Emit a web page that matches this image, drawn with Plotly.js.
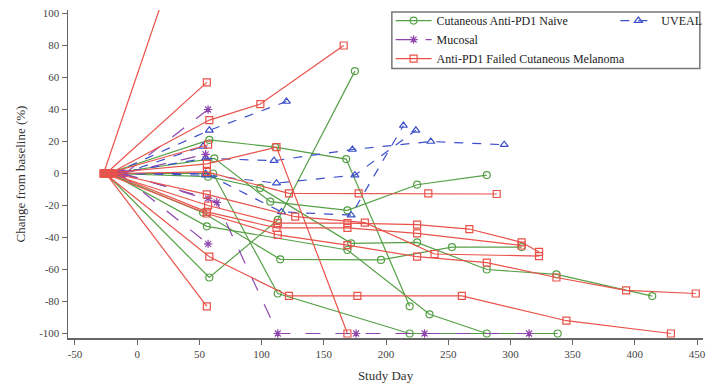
<!DOCTYPE html>
<html>
<head>
<meta charset="utf-8">
<script src="https://cdn.plot.ly/plotly-3.0.1.min.js"></script>
<style>html,body{margin:0;padding:0;background:#fff;}#chart{width:716px;height:388px;}</style>
</head>
<body>
<div id="chart"></div>
<script>
// Cohort names
const cohorts = ["Cutaneous Anti-PD1 Naive", "Mucosal", "Anti-PD1 Failed Cutaneous Melanoma", "UVEAL"];

// Cutaneous Anti-PD1 Naive: study day and % change per patient
const naiveDays = [
  [-25, 58, 113, 175],
  [-24, 58, 111, 168, 219],
  [-22, 62, 107, 169, 225, 281],
  [-20, 57, 99, 172, 225, 281, 337, 414],
  [-23, 53, 115, 196, 253, 309],
  [-21, 56, 169, 235, 281],
  [-25, 61, 113, 219, 338]
];
const naiveVals = [
  [0, -65, -29, 64],
  [0, 21, 16.5, 9, -83],
  [0, 9.5, -17.6, -23, -7, -1],
  [0, -2, -9, -43.6, -43, -60, -63, -76.6],
  [0, -24.5, -53.6, -54, -46, -46],
  [0, -33, -47.8, -88, -100],
  [0, 0, -75, -100, -100]
];

// Mucosal
const mucosalDays = [
  [-10, 57],
  [-13, 57],
  [-11, 64, 113, 176, 231, 315],
  [-14, 57],
  [-12, 55]
];
const mucosalVals = [
  [0, 40],
  [0, -15.5],
  [0, -18, -100, -100, -100, -100],
  [0, -44],
  [0, 12]
];

// Anti-PD1 Failed Cutaneous Melanoma
const failedDays = [
  [-27, 56],
  [-25, 56],
  [-22, 58, 99, 166],
  [-27, 56, 112, 169],
  [-26, 58, 122, 177, 261, 345, 429],
  [-25, 56],
  [-24, 57],
  [-20, 56, 122, 178, 234, 289],
  [-23, 57, 113, 169, 225, 267, 309, 323],
  [-21, 56, 112, 169, 225, 309],
  [-19, 56, 127, 183, 239, 323],
  [-26, 56, 113, 169, 225, 281, 337, 393, 449]
];
const failedVals = [
  [0, 190],
  [0, 57],
  [0, 33.4, 43.4, 80],
  [0, 6, 16.5, -100],
  [0, -52, -76.5, -76.5, -76.5, -92, -100],
  [0, -83],
  [0, 18],
  [0, 1, -12.4, -12.4, -12.4, -12.8],
  [0, -20, -31, -31, -32, -34.7, -43, -49],
  [0, -24, -34, -34, -37.4, -45],
  [0, -13, -27, -30.7, -50.3, -51.6],
  [0, -25, -38.4, -44.7, -52, -55.7, -65, -73, -75]
];

// UVEAL
const uvealDays = [
  [-20, 58, 120],
  [-18, 55, 110, 173, 236, 295],
  [-15, 55, 112, 175, 224],
  [-16, 55, 116, 172, 214],
  [-12, 53]
];
const uvealVals = [
  [0, 27, 45],
  [0, 9.5, 8, 15, 20, 18],
  [0, -1, -6, -1, 27],
  [0, 0, -24, -26, 30],
  [0, 17]
];

const yTicks = [-100, -80, -60, -40, -20, 0, 20, 40, 60, 80, 100];
const xTicks = [-50, 0, 50, 100, 150, 200, 250, 300, 350, 400, 450];

const styles = {
  "Cutaneous Anti-PD1 Naive": {color: "#55a046", symbol: "circle-open", dash: "solid", legend: "legend", rank: 1},
  "Mucosal": {color: "#8e46ad", symbol: "asterisk-open", dash: "longdash", legend: "legend", rank: 2},
  "Anti-PD1 Failed Cutaneous Melanoma": {color: "#e9524a", symbol: "square-open", dash: "solid", legend: "legend", rank: 3},
  "UVEAL": {color: "#3c4fca", symbol: "triangle-up-open", dash: "dash", legend: "legend2", rank: 1}
};

function makeTraces(name, days, vals) {
  const s = styles[name];
  return days.map((d, i) => ({
    type: "scatter", mode: "lines+markers",
    x: d, y: vals[i], name: name,
    legendgroup: name, showlegend: i === 0,
    legend: s.legend, legendrank: s.rank,
    line: {color: s.color, width: 1.2, dash: s.dash},
    marker: {symbol: s.symbol, size: 7, color: s.color, line: {color: s.color, width: 1.2}},
    hoverinfo: "x+y+name"
  }));
}

const data = [].concat(
  makeTraces(cohorts[0], naiveDays, naiveVals),
  makeTraces(cohorts[3], uvealDays, uvealVals),
  makeTraces(cohorts[1], mucosalDays, mucosalVals),
  makeTraces(cohorts[2], failedDays, failedVals)
);

const serif = "Liberation Serif";
const layout = {
  width: 716, height: 388,
  margin: {l: 68, r: 13, t: 10, b: 50, autoexpand: false},
  paper_bgcolor: "#fff", plot_bgcolor: "#fff",
  font: {family: serif, size: 11, color: "#333"},
  xaxis: {
    range: [-55.6, 454.8], tickvals: xTicks, ticktext: xTicks.map(String),
    showline: true, linecolor: "#666", linewidth: 1.5, ticks: "outside", ticklen: 5, tickcolor: "#666",
    showgrid: false, zeroline: false, tickfont: {family: serif, size: 11, color: "#444"},
    title: {text: "Study Day", font: {family: serif, size: 13, color: "#333"}, standoff: 12}
  },
  yaxis: {
    range: [-102.8, 102.2], tickvals: yTicks, ticktext: yTicks.map(String),
    showline: true, linecolor: "#666", linewidth: 1.5, ticks: "outside", ticklen: 5, tickcolor: "#666",
    showgrid: false, zeroline: false, tickfont: {family: serif, size: 11, color: "#444"},
    title: {text: "Change from baseline (%)", font: {family: serif, size: 13, color: "#333"}, standoff: 10}
  },
  legend: {
    x: 0.508, y: 1.012, xanchor: "left", yanchor: "top",
    bgcolor: "rgba(0,0,0,0)", borderwidth: 0,
    font: {family: serif, size: 12, color: "#222"}, itemwidth: 36, tracegroupgap: 0,
    traceorder: "normal"
  },
  legend2: {
    x: 0.862, y: 1.012, xanchor: "left", yanchor: "top",
    bgcolor: "rgba(0,0,0,0)", borderwidth: 0,
    font: {family: serif, size: 12, color: "#222"}, itemwidth: 36
  },
  shapes: [{
    type: "rect", xref: "paper", yref: "paper",
    x0: 0.510, x1: 0.995, y0: 0.822, y1: 0.994,
    line: {color: "#777", width: 1.5}, fillcolor: "rgba(255,255,255,0)", layer: "above"
  }],
  showlegend: true
};

Plotly.newPlot("chart", data, layout, {displayModeBar: false, staticPlot: true});
</script>
</body>
</html>
